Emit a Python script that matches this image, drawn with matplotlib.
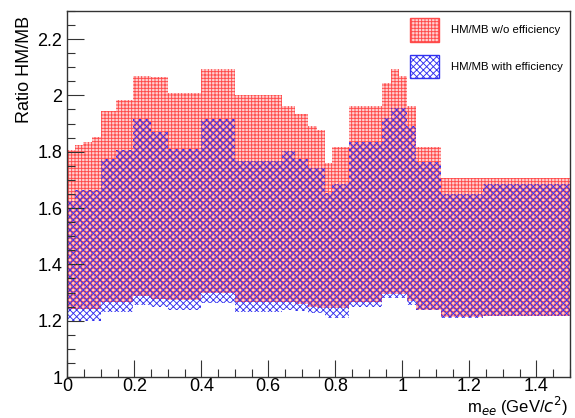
import matplotlib
matplotlib.use("Agg")
import matplotlib.pyplot as plt
import numpy as np
from matplotlib.patches import Patch
from matplotlib.ticker import MultipleLocator

# bin edges in m_ee (GeV/c^2)
edges = [0, 0.022, 0.047, 0.074, 0.1, 0.146, 0.196, 0.25, 0.3, 0.4, 0.5, 0.64,
         0.68, 0.72, 0.745, 0.77, 0.79, 0.84, 0.94, 0.965, 0.99, 1.015, 1.04,
         1.115, 1.24, 1.5]

# HM/MB w/o efficiency band (low, high)
red_low = [1.24, 1.24, 1.24, 1.24, 1.266, 1.266, 1.286, 1.278, 1.273, 1.30, 1.266,
           1.266, 1.26, 1.25, 1.246, 1.246, 1.246, 1.266, 1.295, 1.295, 1.295,
           1.27, 1.239, 1.212, 1.218]
red_high = [1.805, 1.824, 1.835, 1.852, 1.944, 1.985, 2.07, 2.065, 2.01, 2.093, 2.0,
            1.964, 1.935, 1.893, 1.876, 1.761, 1.817, 1.964, 2.044, 2.093, 2.068,
            1.964, 1.817, 1.705, 1.705]

# HM/MB with efficiency band (low, high)
blue_low = [1.2, 1.2, 1.2, 1.2, 1.23, 1.23, 1.257, 1.25, 1.238, 1.262, 1.23,
            1.238, 1.235, 1.227, 1.227, 1.21, 1.21, 1.248, 1.28, 1.28, 1.28,
            1.255, 1.239, 1.208, 1.218]
blue_high = [1.625, 1.663, 1.663, 1.663, 1.773, 1.805, 1.915, 1.87, 1.81, 1.915, 1.767,
             1.802, 1.773, 1.743, 1.743, 1.655, 1.685, 1.834, 1.92, 1.956, 1.956,
             1.891, 1.765, 1.649, 1.685]

labels = ["HM/MB w/o efficiency", "HM/MB with efficiency"]

plt.rcParams['font.family'] = ['Liberation Sans', 'DejaVu Sans']
plt.rcParams['hatch.linewidth'] = 0.65

fig = plt.figure(figsize=(5.75, 4.18), dpi=100)
ax = fig.add_axes([0.117, 0.098, 0.874, 0.876])

e = np.array(edges)
left = e[:-1]
width = np.diff(e)

red = '#ff4a4a'
blue = '#3030f0'
red_hatch = '+++++'
blue_hatch = 'xxxxx'
ax.bar(left, np.array(red_high) - np.array(red_low), bottom=red_low, width=width,
       align='edge', facecolor='#ffd0d0', edgecolor=red, hatch=red_hatch, linewidth=0)
ax.bar(left, np.array(blue_high) - np.array(blue_low), bottom=blue_low, width=width,
       align='edge', facecolor='none', edgecolor=blue, hatch=blue_hatch, linewidth=0)

ax.set_xlim(0, 1.5)
ax.set_ylim(1, 2.3)

ax.xaxis.set_major_locator(MultipleLocator(0.2))
ax.xaxis.set_minor_locator(MultipleLocator(0.05))
ax.yaxis.set_major_locator(MultipleLocator(0.2))
ax.yaxis.set_minor_locator(MultipleLocator(0.05))
ax.tick_params(which='both', direction='in', top=False, right=False, labelsize=13,
               color='#333333')
ax.tick_params(which='major', length=12, width=0.8)
ax.tick_params(which='minor', length=6, width=0.8)
ax.tick_params(axis='x', pad=1)

def fmt(v, pos):
    s = f"{v:.1f}"
    if s.endswith(".0"):
        s = s[:-2]
    return s
ax.xaxis.set_major_formatter(plt.FuncFormatter(fmt))
ax.yaxis.set_major_formatter(plt.FuncFormatter(fmt))

for sp in ax.spines.values():
    sp.set_linewidth(1.0)
    sp.set_color('#333333')

ax.set_ylabel("Ratio HM/MB", fontsize=13, loc='top')
ax.yaxis.set_label_coords(-0.068, 0.985)
ax.set_xlabel(r"m$_{ee}$ (GeV/$c^{2}$)", fontsize=12, loc='right')
ax.xaxis.set_label_coords(0.996, -0.05)

handles = [Patch(facecolor='#ffd0d0', edgecolor=red, hatch=red_hatch, linewidth=1.0),
           Patch(facecolor='none', edgecolor=blue, hatch=blue_hatch, linewidth=1.0)]
leg = ax.legend(handles, labels, loc='upper right', bbox_to_anchor=(1.0, 1.0),
                frameon=False, fontsize=8.2, handlelength=2.6, handleheight=2.8,
                labelspacing=1.15, handletextpad=1.0, borderaxespad=0.25)

fig.savefig("out.png", dpi=100)
